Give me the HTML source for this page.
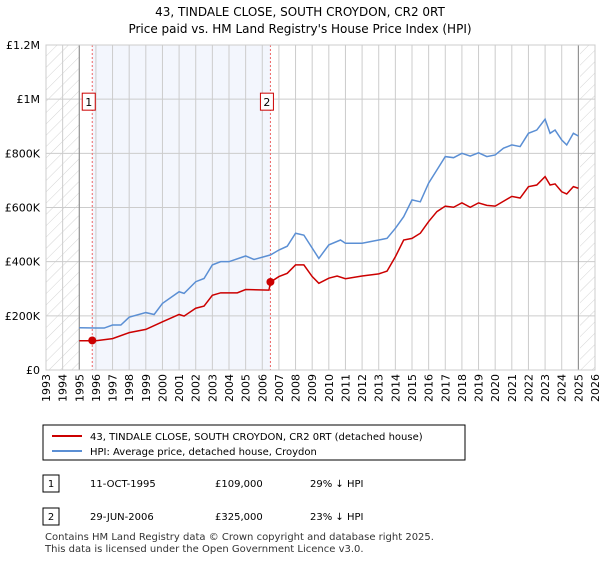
<!DOCTYPE html>
<html><head><meta charset="utf-8"><style>
body{margin:0;background:#fff;font-family:"DejaVu Sans","Liberation Sans",sans-serif;}
svg text{font-family:"DejaVu Sans","Liberation Sans",sans-serif;}
</style></head><body>
<svg id="c" width="600" height="560" xmlns="http://www.w3.org/2000/svg">
<defs><pattern id="h" width="8" height="8" patternUnits="userSpaceOnUse" patternTransform="rotate(45)"><line x1="0" y1="0" x2="0" y2="8" stroke="#d4d4d4" stroke-width="1"/></pattern></defs>
<text x="300" y="16" text-anchor="middle" font-size="12">43, TINDALE CLOSE, SOUTH CROYDON, CR2 0RT</text>
<text x="300" y="33" text-anchor="middle" font-size="12">Price paid vs. HM Land Registry's House Price Index (HPI)</text>
<g id="plot"></g>
<g>
<rect x="43" y="425" width="422" height="35" fill="#fff" stroke="#000" stroke-width="1"/>
<line x1="52" y1="436" x2="82" y2="436" stroke="#cc0000" stroke-width="2"/>
<text x="90" y="440" font-size="10">43, TINDALE CLOSE, SOUTH CROYDON, CR2 0RT (detached house)</text>
<line x1="52" y1="451" x2="82" y2="451" stroke="#5b8fd4" stroke-width="2"/>
<text x="90" y="455" font-size="10">HPI: Average price, detached house, Croydon</text>
</g>
<g font-size="10">
<rect x="43" y="475" width="16" height="17" fill="#fff" stroke="#000"/><text x="51" y="487" text-anchor="middle">1</text>
<text x="90" y="487">11-OCT-1995</text><text x="215" y="487">£109,000</text><text x="310" y="487">29% ↓ HPI</text>
<rect x="43" y="508" width="16" height="17" fill="#fff" stroke="#000"/><text x="51" y="520" text-anchor="middle">2</text>
<text x="90" y="520">29-JUN-2006</text><text x="215" y="520">£325,000</text><text x="310" y="520">23% ↓ HPI</text>
</g>
<text x="45" y="540" font-size="10" fill="#333">Contains HM Land Registry data © Crown copyright and database right 2025.</text>
<text x="45" y="552" font-size="10" fill="#333">This data is licensed under the Open Government Licence v3.0.</text>
</svg>
<script>
const hpiYears=[1995,1996,1996.5,1997,1997.5,1998,1999,1999.5,2000,2001,2001.3,2002,2002.5,2003,2003.5,2004,2005,2005.5,2006.5,2007,2007.5,2008,2008.5,2009.4,2010,2010.7,2011,2012,2013,2013.5,2014,2014.5,2015,2015.5,2016,2016.5,2017,2017.5,2018,2018.5,2019,2019.5,2020,2020.5,2021,2021.5,2022,2022.5,2023,2023.3,2023.6,2024,2024.3,2024.7,2025];
const hpiValues=[156,155,155,166,166,195,212,205,246,289,283,326,338,388,400,400,421,408,425,443,457,505,498,412,462,480,468,468,480,486,523,566,628,621,690,739,788,784,800,790,802,788,794,819,831,825,874,886,926,874,886,849,831,874,864];
const priceYears=[1995,1996,1997,1998,1999,2000,2001,2001.3,2002,2002.5,2003,2003.5,2004.5,2005,2006.4,2006.5,2007,2007.5,2008,2008.5,2009,2009.4,2010,2010.5,2011,2012,2013,2013.5,2014,2014.5,2015,2015.5,2016,2016.5,2017,2017.5,2018,2018.5,2019,2019.5,2020,2020.5,2021,2021.5,2022,2022.5,2023,2023.3,2023.6,2024,2024.3,2024.7,2025];
const priceValues=[108,108,116,138,150,178,205,199,228,236,276,285,285,297,295,325,345,357,388,388,345,320,339,347,337,347,355,365,418,480,486,505,548,585,605,601,617,601,617,608,605,623,641,635,677,683,714,683,687,658,650,677,671];
const saleYears=[1995.78,2006.49];
const saleValues=[109,325];
const yTicks=[0,200,400,600,800,1000,1200];
const yTickLabels=["£0","£200K","£400K","£600K","£800K","£1M","£1.2M"];
const xTicks=[1993,1994,1995,1996,1997,1998,1999,2000,2001,2002,2003,2004,2005,2006,2007,2008,2009,2010,2011,2012,2013,2014,2015,2016,2017,2018,2019,2020,2021,2022,2023,2024,2025,2026];
const X=y=>46+(y-1993)*(549/33);
const Y=v=>370-v*(325/1200);
const NS="http://www.w3.org/2000/svg";
const g=document.getElementById('plot');
function mk(t,a,p){const e=document.createElementNS(NS,t);for(const k in a)e.setAttribute(k,a[k]);(p||g).appendChild(e);return e;}
let r=mk('rect',{x:X(1993),y:Y(1200),width:X(1995)-X(1993),height:Y(0)-Y(1200),fill:'url(#h)'});

r=mk('rect',{x:X(2025.1),y:Y(1200),width:X(2026)-X(2025.1),height:Y(0)-Y(1200),fill:'url(#h)'});

r=mk('rect',{x:X(saleYears[0]),y:Y(1200),width:X(saleYears[1])-X(saleYears[0]),height:Y(0)-Y(1200),fill:'#f3f6fd'});

xTicks.forEach(t=>{const l=mk('line',{x1:X(t),x2:X(t),y1:Y(1200),y2:Y(0),stroke:'#ccc'});

const tx=mk('text',{x:0,y:0,'font-size':11,'text-anchor':'end',transform:`translate(${X(t)+4},374) rotate(-90)`});tx.textContent=t;
});
yTicks.forEach((t,i)=>{const l=mk('line',{x1:X(1993),x2:X(2026),y1:Y(t),y2:Y(t),stroke:'#ccc'});

const tx=mk('text',{x:40,y:Y(t)+4,'font-size':11,'text-anchor':'end'});tx.textContent=yTickLabels[i];
});
[1995,2025].forEach(t=>{const l=mk('line',{x1:X(t),x2:X(t),y1:Y(1200),y2:Y(0),stroke:'#888'});
});
saleYears.forEach((s,i)=>{const l=mk('line',{x1:X(s),x2:X(s),y1:Y(1200),y2:Y(0),stroke:'#e66','stroke-dasharray':'2,2'});

const b=mk('rect',{x:X(s)-10,y:Y(1000)-6,width:13,height:17,fill:'#fff',stroke:'#c00'});

const tx=mk('text',{x:X(s)-3.5,y:Y(1000)+7,'font-size':11,'text-anchor':'middle'});tx.textContent=i+1;
});
function line(xs,vs,c,n){const p=mk('polyline',{points:xs.map((x,i)=>X(x)+','+Y(vs[i])).join(' '),fill:'none',stroke:c,'stroke-width':1.5});
}
line(hpiYears,hpiValues,'#5b8fd4','hpi-line');
line(priceYears,priceValues,'#cc0000','price-line');
saleYears.forEach((s,i)=>{const c=mk('circle',{cx:X(s),cy:Y(saleValues[i]),r:4,fill:'#cc0000'});
});
const bx=mk('rect',{x:X(1993),y:Y(1200),width:X(2026)-X(1993),height:Y(0)-Y(1200),fill:'none',stroke:'#ccc'});

</script>
</body></html>
